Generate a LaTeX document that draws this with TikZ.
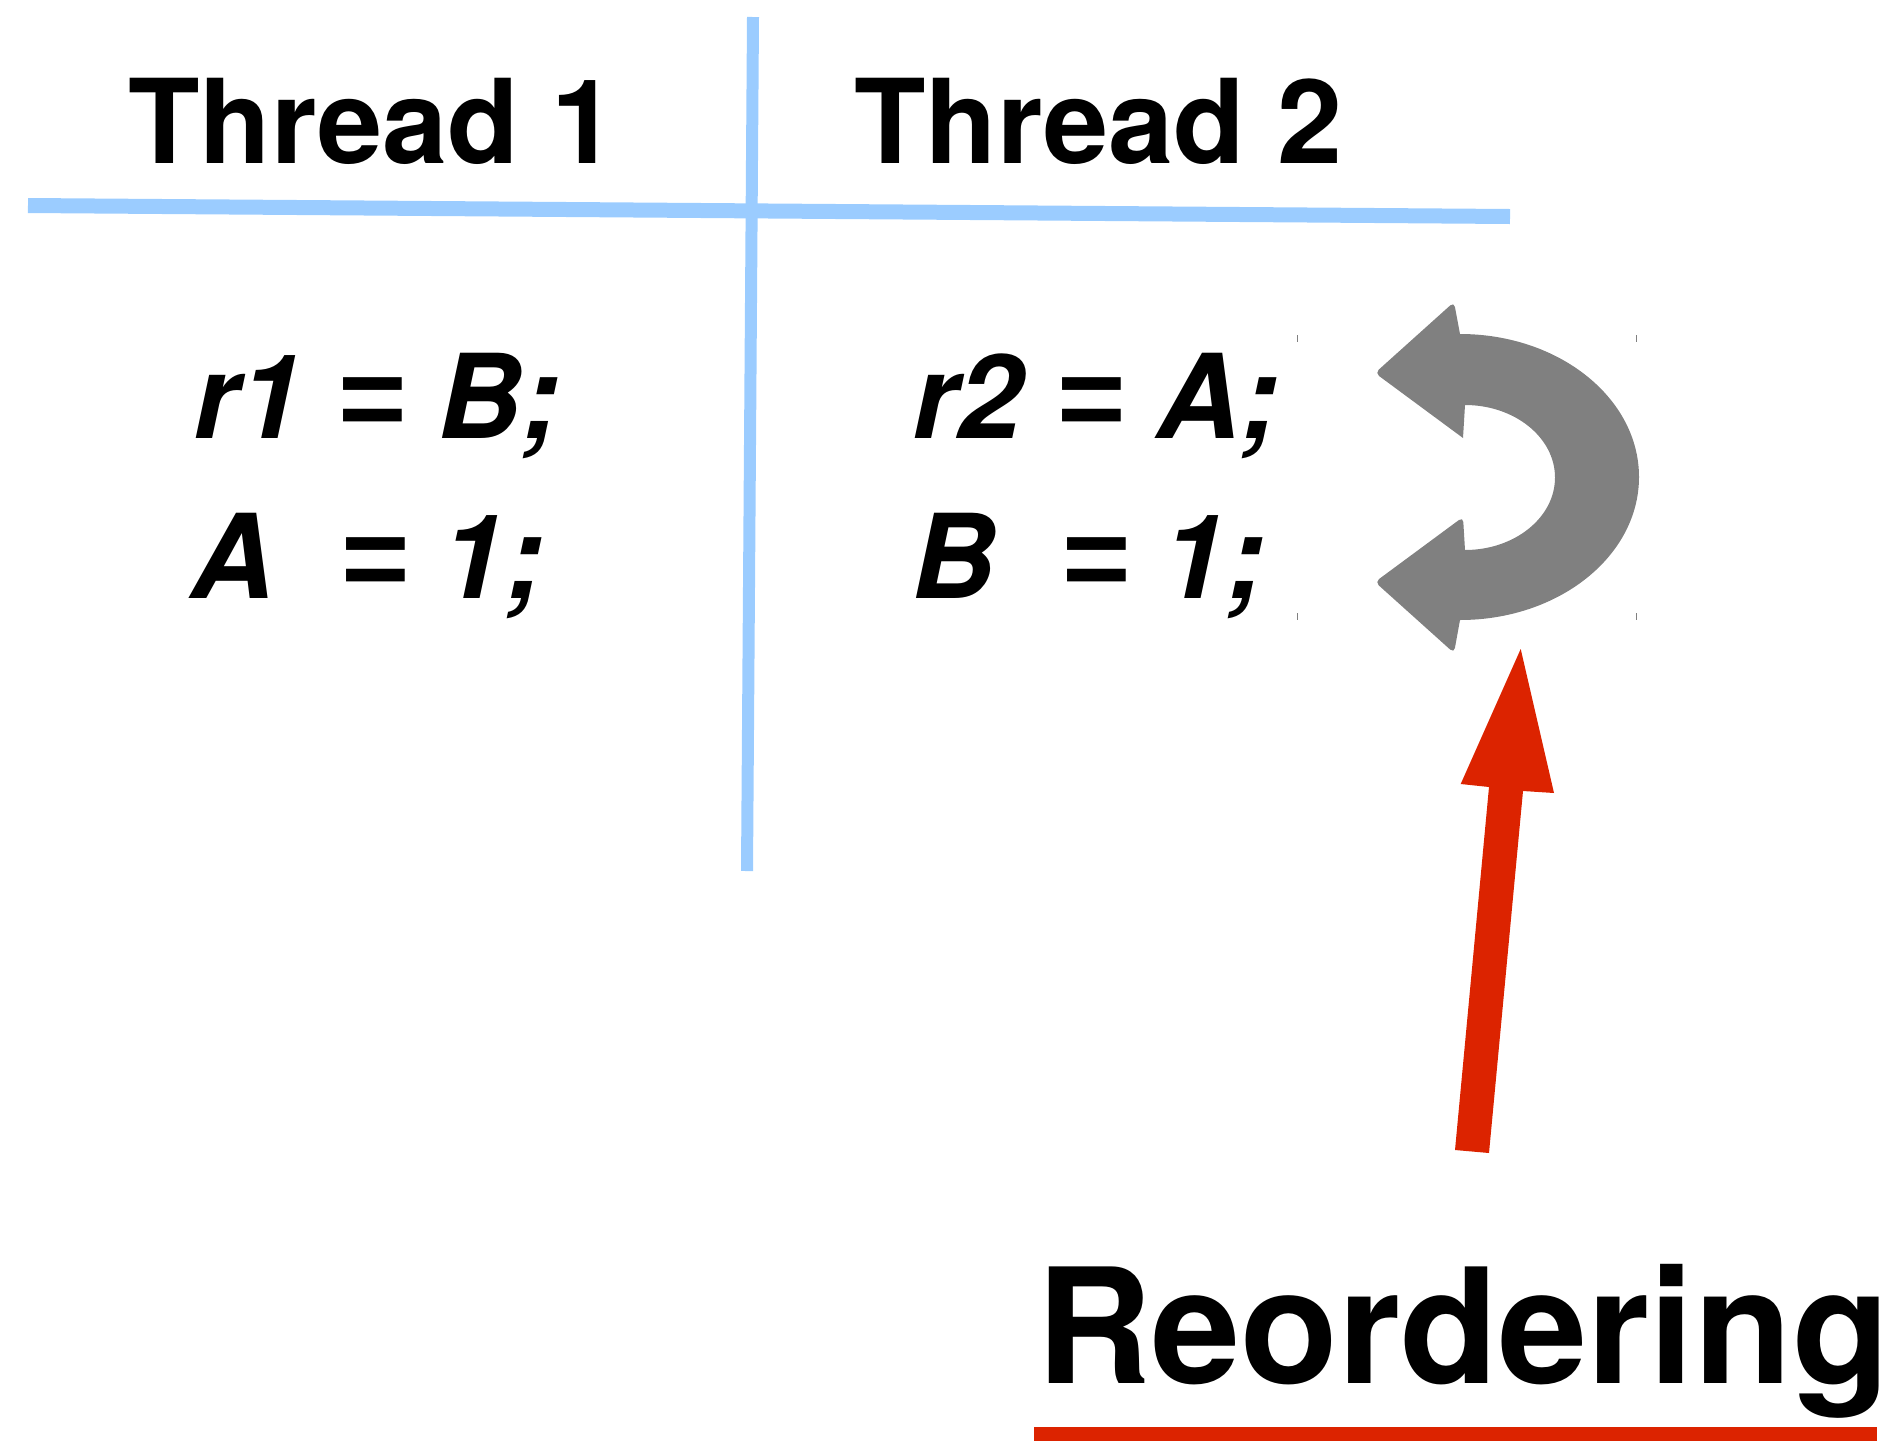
\documentclass[tikz,border=0pt]{standalone}
\usepackage{fontspec}
\setmainfont{TeX Gyre Heros}
\newfontfamily\libfont{Liberation Sans}
\newcommand{\eqsign}{{\libfont =}}
\definecolor{gridblue}{RGB}{155,204,255}
\definecolor{turngray}{RGB}{128,128,128}
\definecolor{alertred}{RGB}{220,35,0}
\begin{document}
\begin{tikzpicture}[x=0.5pt,y=-0.5pt,
  gridline/.style={draw=gridblue, line cap=butt},
  headtext/.style={font=\fontsize{58.5}{60}\selectfont\bfseries, anchor=base west, inner sep=0pt},
  codetext/.style={font=\fontsize{58.5}{60}\selectfont\bfseries\itshape, anchor=base west, inner sep=0pt},
  bigtext/.style={font=\fontsize{80}{82}\selectfont\bfseries, anchor=base west, inner sep=0pt},
  tick/.style={draw=turngray, line width=0.5pt}]
\useasboundingbox (0,0) rectangle (1896,1441);
% grid lines
\coordinate (vtop) at (753,17);
\coordinate (vbot) at (747,871);
\coordinate (hl) at (28,205.5);
\coordinate (hr) at (1510,216.5);
\draw[gridline, line width=6pt] (vtop) -- (vbot);
\draw[gridline, line width=7.5pt] (hl) -- (hr);
% headings
\node[headtext] (t1) at (128,163) {Thread 1};
\node[headtext] (t2) at (854,163) {Thread 2};
% code
\node[codetext] (c11) at (193,438.7) {r1 \eqsign{} B;};
\node[codetext] (c12) at (190,598.3) {A\ \ \eqsign{} 1;};
\node[codetext] (c21) at (912,438.7) {r2 \eqsign{} A;};
\node[codetext] (c22) at (911,598.3) {B\ \ \eqsign{} 1;};
% U-turn arrow
\fill[turngray] (1463,438) [rounded corners=2.5pt] -- (1375,373) -- (1454,302) [sharp corners] -- (1460,334)
  .. controls (1558.9,334) and (1639,398) .. (1639,477)
  .. controls (1639,556) and (1558.9,620) .. (1460,620)
  [rounded corners=2.5pt] -- (1454,653) -- (1375,582) -- (1463,517) [sharp corners] -- (1465,550)
  .. controls (1514.7,550) and (1555,517.5) .. (1555,477.5)
  .. controls (1555,437.5) and (1514.7,405) .. (1465,405)
  -- cycle;
\draw[tick] (1297,335) -- (1297,342);
\draw[tick] (1636,335) -- (1636,342);
\draw[tick] (1297,613) -- (1297,620);
\draw[tick] (1636,613) -- (1636,620);
% red arrow
\fill[alertred] (1455,1150) -- (1489,787) -- (1460.7,784) -- (1520.7,649)
  -- (1554,793) -- (1523,791) -- (1489,1153) -- cycle;
% label
\node[bigtext] (reo) at (1036,1383) {Reordering};
\fill[alertred] (1034,1427) rectangle (1877,1441);
\end{tikzpicture}
\end{document}
